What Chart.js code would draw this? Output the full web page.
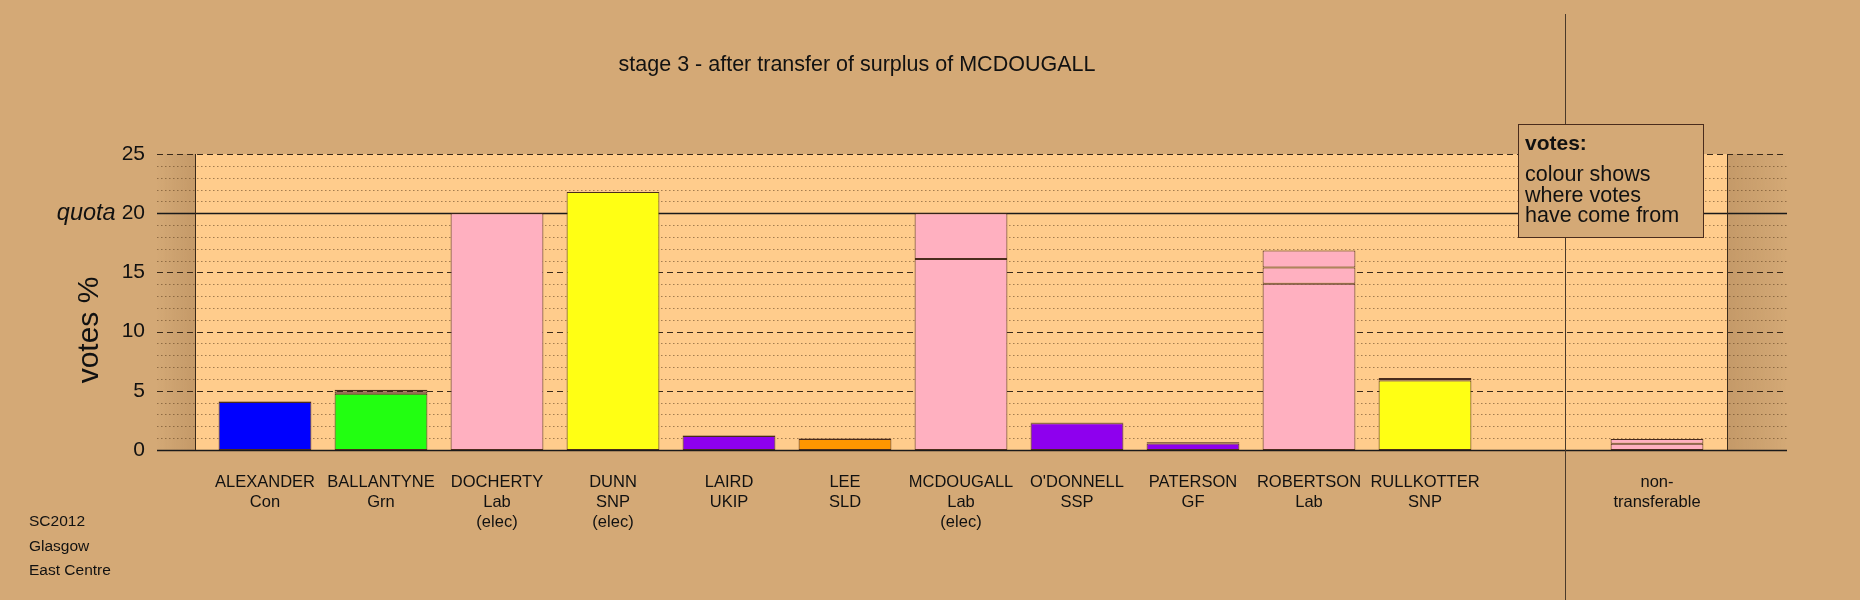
<!DOCTYPE html>
<html>
<head>
<meta charset="utf-8">
<script src="https://cdn.jsdelivr.net/npm/chart.js@4.4.1/dist/chart.umd.min.js"></script>
<style>
  html, body { margin: 0; padding: 0; background: #D4A976; }
  #wrap { width: 1860px; height: 600px; position: relative; }
</style>
</head>
<body>
<div id="wrap"><canvas id="stvChart"></canvas></div>
<script>
// ---------------- data ----------------
const titleText = 'stage 3 - after transfer of surplus of MCDOUGALL';
const candidates = [
    ['ALEXANDER', 'Con'], ['BALLANTYNE', 'Grn'], ['DOCHERTY', 'Lab', '(elec)'], ['DUNN', 'SNP', '(elec)'],
    ['LAIRD', 'UKIP'], ['LEE', 'SLD'], ['MCDOUGALL', 'Lab', '(elec)'], ["O'DONNELL", 'SSP'],
    ['PATERSON', 'GF'], ['ROBERTSON', 'Lab'], ['RULLKOTTER', 'SNP'], [''], ['non-', 'transferable']
];
const partyColours = ['#0000FF', '#22FF11', '#FFB0C0', '#FFFF14', '#8E00EE', '#FF9600', '#FFB0C0',
    '#8E00EE', '#8E00EE', '#FFB0C0', '#FFFF14', '#FFB0C0', '#FFB0C0'];
const labPink = '#FFB0C0';
const firstPrefs    = [4.06, 4.75, 20.0, 21.8, 1.18, 0.92, 16.13, 2.26, 0.55, 14.04, 5.88, null, 0];
const fromDocherty  = [0.03, 0.20, 0, 0, 0.03, 0.04, 3.87, 0.04, 0.07, 1.38, 0.12, null, 0.52];
const fromMcdougall = [0.02, 0.14, 0, 0, 0.03, 0.03, 0, 0.02, 0.06, 1.42, 0.08, null, 0.40];
const yTicks = [0, 5, 10, 15, 20, 25];
const quota = 20;
const footerLines = ['SC2012', 'Glasgow', 'East Centre'];
const legendLines = ['colour shows', 'where votes', 'have come from'];

const FONT = "'Liberation Sans', Arial, sans-serif";
const edge = '#4a2c1c';

//----------------------------- background + grid -----------------------------------
const backdrop = {
    id: 'backdrop',
    beforeDatasetsDraw(chart) {
        const { ctx, chartArea: a, scales: { y } } = chart;
        const panelL = a.left - 12, panelR = a.right + 12;
        const lineL = panelL - 38, lineR = panelR + 60;
        ctx.save();
        // panel
        ctx.fillStyle = '#FFCC8C';
        ctx.fillRect(panelL, a.top, panelR - panelL, a.bottom - a.top);
        // side shading
        let g = ctx.createLinearGradient(lineL, 0, panelL, 0);
        g.addColorStop(0, 'rgba(120,80,40,0)');
        g.addColorStop(1, 'rgba(120,80,40,0.17)');
        ctx.fillStyle = g;
        ctx.fillRect(lineL, a.top, panelL - lineL, a.bottom - a.top);
        g = ctx.createLinearGradient(panelR, 0, lineR, 0);
        g.addColorStop(0, 'rgba(120,80,40,0.17)');
        g.addColorStop(1, 'rgba(120,80,40,0)');
        ctx.fillStyle = g;
        ctx.fillRect(panelR, a.top, lineR - panelR, a.bottom - a.top);
        // horizontal lines
        for (let v = 0; v <= 25; v++) {
            const py = Math.round(y.getPixelForValue(v)) + 0.5;
            ctx.beginPath();
            if (v === 0 || v === quota) {
                ctx.setLineDash([]);
                ctx.strokeStyle = '#1a1a1a';
                ctx.lineWidth = 1.5;
            } else if (v % 5 === 0) {
                ctx.setLineDash([6, 4]);
                ctx.strokeStyle = '#3a2a1a';
                ctx.lineWidth = 1;
            } else {
                ctx.setLineDash([1.5, 2.5]);
                ctx.strokeStyle = 'rgba(90,60,30,0.55)';
                ctx.lineWidth = 1;
            }
            ctx.moveTo(lineL, py);
            ctx.lineTo(lineR, py);
            ctx.stroke();
        }
        // panel edges
        ctx.setLineDash([]);
        ctx.strokeStyle = '#3a2a1a';
        ctx.lineWidth = 1;
        ctx.beginPath();
        ctx.moveTo(Math.round(panelL) + 0.5, a.top);
        ctx.lineTo(Math.round(panelL) + 0.5, a.bottom);
        ctx.moveTo(Math.round(panelR) + 0.5, a.top);
        ctx.lineTo(Math.round(panelR) + 0.5, a.bottom);
        ctx.stroke();

        // y tick labels
        ctx.fillStyle = '#111';
        ctx.textBaseline = 'middle';
        ctx.textAlign = 'right';
        ctx.font = '21px ' + FONT;
        yTicks.forEach(t => ctx.fillText(String(t), lineL - 12, y.getPixelForValue(t)));
        const qw = ctx.measureText(String(quota)).width;
        ctx.font = 'italic 23.5px ' + FONT;
        ctx.fillText('quota', lineL - 12 - qw - 6, y.getPixelForValue(quota));
        // axis title
        ctx.save();
        ctx.translate(90, (a.top + a.bottom) / 2 + 28);
        ctx.rotate(-Math.PI / 2);
        ctx.textAlign = 'center';
        ctx.font = '30px ' + FONT;
        ctx.fillText('votes %', 0, 0);
        ctx.restore();
        ctx.restore();
    },
    afterDraw(chart) {
        const { ctx, scales: { x } } = chart;
        ctx.save();
        // title
        ctx.fillStyle = '#111';
        ctx.font = '21.5px ' + FONT;
        ctx.textAlign = 'center';
        ctx.textBaseline = 'middle';
        ctx.fillText(titleText, 857, 65);
        // separator before non-transferable
        const step = x.getPixelForValue(12) - x.getPixelForValue(11);
        const sx = Math.round(x.getPixelForValue(11) + 0.21 * step) + 0.5;
        ctx.strokeStyle = '#4a3a2a';
        ctx.lineWidth = 1;
        ctx.beginPath();
        ctx.moveTo(sx, 14);
        ctx.lineTo(sx, 600);
        ctx.stroke();
        // legend box
        const bx = 1518.5, by = 124.5, bw = 185, bh = 113;
        ctx.fillStyle = '#D4A976';
        ctx.fillRect(bx, by, bw, bh);
        ctx.strokeStyle = '#4a2c1c';
        ctx.strokeRect(bx, by, bw, bh);
        ctx.fillStyle = '#111';
        ctx.textAlign = 'left';
        ctx.font = 'bold 21px ' + FONT;
        ctx.fillText('votes:', 1525, 144);
        ctx.font = '21.5px ' + FONT;
        legendLines.forEach((l, i) => ctx.fillText(l, 1525, 175.5 + i * 20.5));
        // footer
        ctx.font = '15.5px ' + FONT;
        footerLines.forEach((l, i) => ctx.fillText(l, 29, 522 + i * 24.3));
        ctx.restore();
    }
};

const common = {
    borderColor: edge,
    borderWidth: 1,
    borderSkipped: false,
    barPercentage: 0.8,
    categoryPercentage: 1.0
};

const config = {
    type: 'bar',
    data: {
        labels: candidates,
        datasets: [
            Object.assign({ label: 'first preferences', data: firstPrefs, backgroundColor: partyColours }, common),
            Object.assign({ label: 'from DOCHERTY', data: fromDocherty, backgroundColor: labPink }, common),
            Object.assign({ label: 'from MCDOUGALL', data: fromMcdougall, backgroundColor: labPink }, common)
        ]
    },
    options: {
        responsive: true,
        maintainAspectRatio: false,
        animation: false,
        events: [],
        layout: { padding: { left: 207, right: 145, top: 154, bottom: 0 } },
        plugins: {
            legend: { display: false },
            tooltip: { enabled: false },
            title: { display: false }
        },
        scales: {
            x: {
                stacked: true,
                grid: { display: false, drawTicks: false },
                border: { display: false },
                ticks: {
                    color: '#111',
                    autoSkip: false,
                    maxRotation: 0,
                    padding: 22,
                    font: { family: FONT, size: 16.5, lineHeight: 1.22 }
                },
                afterFit: scale => { scale.height = 150; }
            },
            y: {
                stacked: true,
                display: false,
                min: 0,
                max: 25
            }
        }
    },
    plugins: [backdrop]
};

new Chart(document.getElementById('stvChart'), config);
</script>
</body>
</html>
